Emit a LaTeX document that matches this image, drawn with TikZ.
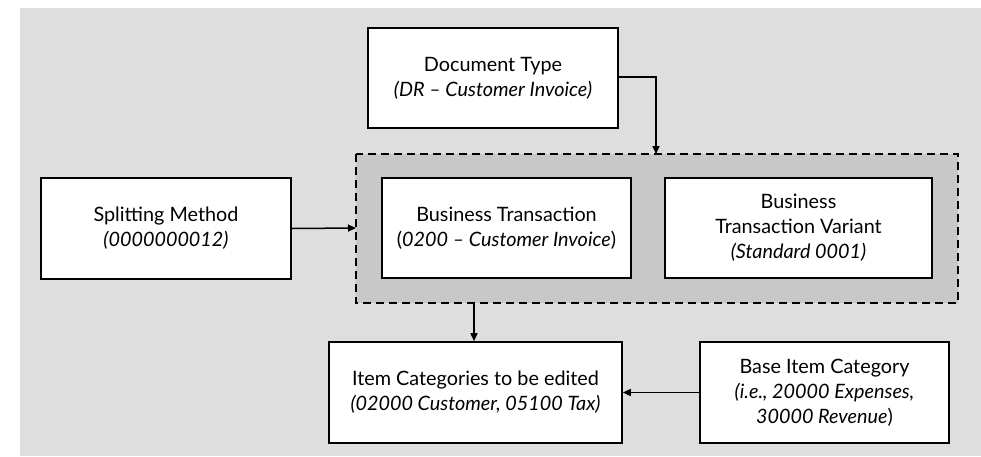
\documentclass[tikz,border=0pt]{standalone}
\usepackage{fontspec}
\setmainfont{Lato}
\usetikzlibrary{arrows.meta}
\definecolor{bggray}{HTML}{DEDEDE}
\definecolor{grpgray}{HTML}{C8C8C8}
\begin{document}
\begin{tikzpicture}[x=1pt,y=-1pt,
  box/.style={draw=black,line width=1.6pt,fill=white,inner sep=0pt,align=center,
    font=\fontsize{19.8}{25}\selectfont},
  conn/.style={line width=1.5pt,-{Triangle[length=8pt,width=7pt]}}]
\useasboundingbox (0,0) rectangle (981,456);
\fill[white] (0,0) rectangle (981,456);
\fill[bggray] (20,8) rectangle (981,456);
\draw[fill=grpgray,line width=1.6pt,dash pattern=on 8pt off 5pt] (356,154) rectangle (958,303);
\coordinate (grpN) at (656,154);
\coordinate (grpW) at (356,228);
\coordinate (grpS) at (474,303);
\node[box,minimum width=250pt,minimum height=100pt] (doc) at (493,78)
  {Document Type\\\textit{(DR -- Customer Invoice)}};
\node[box,minimum width=250pt,minimum height=101pt] (split) at (166,228.5)
  {Splitting Method\\\textit{(0000000012)}};
\node[box,minimum width=249pt,minimum height=100pt] (bt) at (506.5,228)
  {Business Transaction\\(\textit{0200 -- Customer Invoice})};
\node[box,minimum width=267pt,minimum height=100pt] (btv) at (798.5,228)
  {Business\\Transaction Variant\\\textit{(Standard 0001)}};
\node[box,minimum width=293pt,minimum height=101pt] (item) at (475.5,392.5)
  {Item Categories to be edited\\\textit{(02000 Customer, 05100 Tax)}};
\node[box,minimum width=249pt,minimum height=101pt] (base) at (824.5,392.5)
  {Base Item Category\\\textit{(i.e., 20000 Expenses,}\\\textit{30000 Revenue})};
\draw[conn] (doc.east |- 0,77) -| (grpN);
\draw[conn] (split.east) -- (grpW);
\draw[conn] (grpS) -- (item.north -| grpS);
\draw[conn] (base.west) -- (item.east);
\end{tikzpicture}
\end{document}
